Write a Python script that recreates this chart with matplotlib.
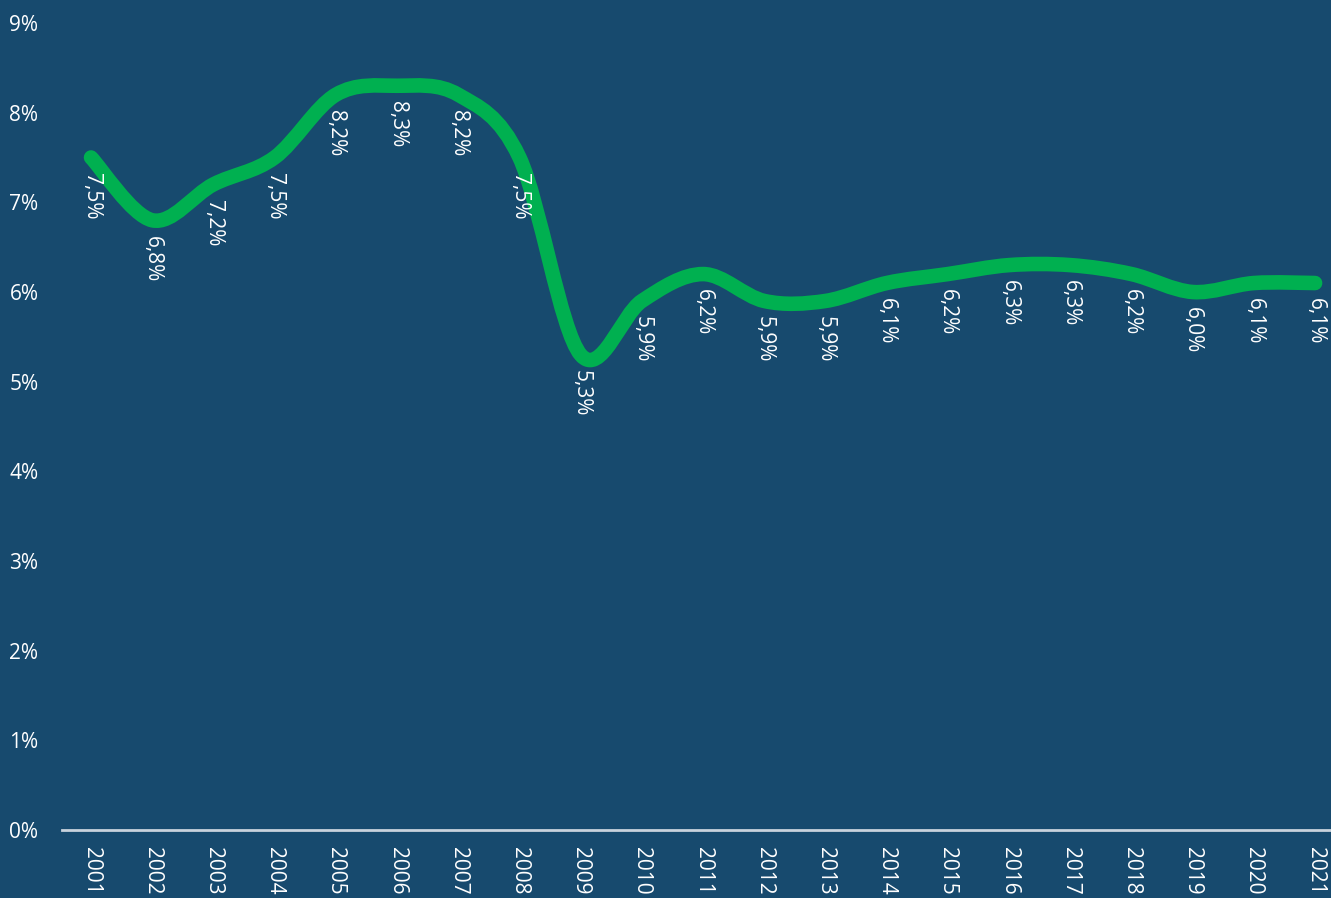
#!/usr/bin/env python3
"""Smoothed share-of-GDP style line chart on a dark blue background."""

import matplotlib
matplotlib.use("Agg")
import matplotlib.pyplot as plt
from matplotlib.path import Path
from matplotlib.patches import PathPatch
import numpy as np

years = list(range(2001, 2022))
values = [7.5, 6.8, 7.2, 7.5, 8.2, 8.3, 8.2, 7.5, 5.3, 5.9, 6.2,
          5.9, 5.9, 6.1, 6.2, 6.3, 6.3, 6.2, 6.0, 6.1, 6.1]
y_ticks = list(range(0, 10))

BG = "#174a6e"
GREEN = "#00b050"
plt.rcParams["font.family"] = ["Open Sans", "DejaVu Sans"]


def smooth_path(xs, ys):
    """Catmull-Rom curve through the points, as cubic Bezier segments."""
    xs = np.asarray(xs, dtype=float)
    ys = np.asarray(ys, dtype=float)
    pts = np.column_stack([xs, ys])
    ext = np.vstack([pts[0], pts, pts[-1]])
    verts = [pts[0]]
    codes = [Path.MOVETO]
    for i in range(1, len(ext) - 2):
        p0, p1, p2, p3 = ext[i - 1], ext[i], ext[i + 1], ext[i + 2]
        c1 = p1 + (p2 - p0) / 6.0
        c2 = p2 - (p3 - p1) / 6.0
        verts += [c1, c2, p2]
        codes += [Path.CURVE4] * 3
    return Path(verts, codes)


fig = plt.figure(figsize=(13.31, 8.98), dpi=100, facecolor=BG)
ax = fig.add_axes([0.0466, 0.0757, 0.9534, 0.8987], facecolor=BG)

patch = PathPatch(smooth_path(years, values), facecolor="none", edgecolor=GREEN,
                  linewidth=10.5, capstyle="round", joinstyle="round", zorder=3)
ax.add_patch(patch)

for x, v in zip(years, values):
    label = f"{v:.1f}%".replace(".", ",")
    ax.annotate(label, (x, v), xytext=(0, -11), textcoords="offset points",
                rotation=-90, ha="center", va="top", color="white",
                fontsize=15, zorder=4)

ax.set_xlim(2001 - 0.474, 2021 + 0.26)
ax.set_ylim(0, 9)
ax.set_xticks(years)
ax.set_xticklabels([str(y) for y in years], rotation=-90, color="white",
                   fontsize=15, va="top", ha="center")
ax.set_yticks(y_ticks)
ax.set_yticklabels([f"{t}%" for t in y_ticks], color="white", fontsize=15)
ax.tick_params(axis="both", length=0)
ax.tick_params(axis="x", pad=12)
ax.tick_params(axis="y", pad=17)

for side in ["top", "right", "left"]:
    ax.spines[side].set_visible(False)
ax.spines["bottom"].set_color("#c8d2dc")
ax.spines["bottom"].set_linewidth(2)

fig.savefig("out.png", dpi=100, facecolor=BG)
